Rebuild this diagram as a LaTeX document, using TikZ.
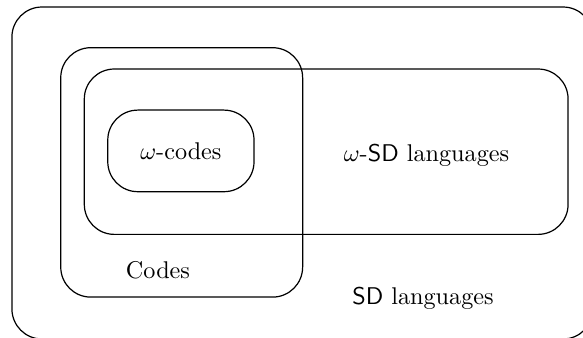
\documentclass[tikz,border=0pt]{standalone}
\usepackage{xcolor}
\usepackage{tikz}
\usetikzlibrary{positioning}

\begin{document}
\begin{tikzpicture}[
    x=0.413pt, y=-0.413pt,
    region/.style={draw, rounded corners=12.4pt, line width=0.5pt, inner sep=0pt, outer sep=0pt},
    label/.style={inner sep=0pt, font=\normalfont}
]

\useasboundingbox (0,0) rectangle (583,338);

% Regions
\node[region, minimum width=240pt, minimum height=137.1pt] (sdlang) at (302.5,173) {};
\node[region, minimum width=99.9pt, minimum height=103pt] (codes) at (181.7,172.4) {};
\node[region, minimum width=199.8pt, minimum height=68.3pt] (omegasd) at (326.2,151.7) {};
\node[region, minimum width=60.4pt, minimum height=33.7pt] (omegacodes) at (180.9,150.9) {};

% Labels
\node[label] (omegacodestext) at (omegacodes) {$\omega$-codes};
\node[label] (omegasdtext) at (426.5,155) {$\omega$-\textsf{SD} languages};
\node[label] (codestext) at (158,270) {Codes};
\node[label] (sdlangtext) at (423,298) {\textsf{SD} languages};

\end{tikzpicture}
\end{document}
